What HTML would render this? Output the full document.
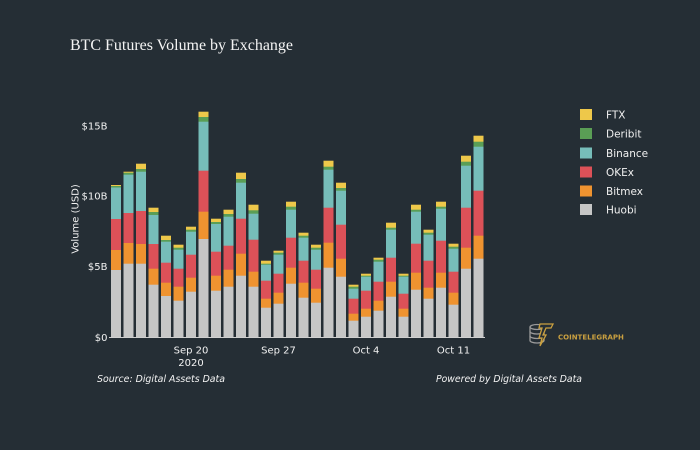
<!DOCTYPE html>
<html><head><meta charset="utf-8"><style>
html,body{margin:0;padding:0;background:#252e35;}
svg{display:block;}
text{font-family:"DejaVu Sans","Liberation Sans",sans-serif;}
</style></head><body>
<svg width="700" height="450" viewBox="0 0 700 450" xmlns="http://www.w3.org/2000/svg">
<rect width="700" height="450" fill="#252e35"/>
<text x="70" y="50" font-size="16.2" fill="#f4f4f4" textLength="223" lengthAdjust="spacingAndGlyphs" style="font-family:'Liberation Serif',serif">BTC Futures Volume by Exchange</text>

<g font-size="10" fill="#f2f2f2" text-anchor="end">
<text x="107.5" y="129.5">$15B</text>
<text x="107.5" y="199.5">$10B</text>
<text x="107.5" y="270">$5B</text>
<text x="107.5" y="341">$0</text>
</g>
<text transform="translate(78.5,219) rotate(-90)" font-size="10" fill="#f2f2f2" text-anchor="middle">Volume (USD)</text>

<g>
<g transform="translate(111,0)"><rect y="185" width="10" height="152.5" fill="#eec84a"/><rect y="186" width="10" height="151.5" fill="#5a9e55"/><rect y="187.5" width="10" height="150" fill="#76bdb9"/><rect y="219" width="10" height="118.5" fill="#dc5158"/><rect y="250" width="10" height="87.5" fill="#ef9330"/><rect y="270" width="10" height="67.5" fill="#c6c6c6"/></g>
<g transform="translate(123.5,0)"><rect y="171.7" width="10" height="165.8" fill="#eec84a"/><rect y="172.7" width="10" height="164.8" fill="#5a9e55"/><rect y="174.7" width="10" height="162.8" fill="#76bdb9"/><rect y="213" width="10" height="124.5" fill="#dc5158"/><rect y="243" width="10" height="94.5" fill="#ef9330"/><rect y="263.7" width="10" height="73.8" fill="#c6c6c6"/></g>
<g transform="translate(136,0)"><rect y="163.7" width="10" height="173.8" fill="#eec84a"/><rect y="169" width="10" height="168.5" fill="#5a9e55"/><rect y="171.7" width="10" height="165.8" fill="#76bdb9"/><rect y="211" width="10" height="126.5" fill="#dc5158"/><rect y="244" width="10" height="93.5" fill="#ef9330"/><rect y="263.7" width="10" height="73.8" fill="#c6c6c6"/></g>
<g transform="translate(148.5,0)"><rect y="207.7" width="10" height="129.8" fill="#eec84a"/><rect y="212" width="10" height="125.5" fill="#5a9e55"/><rect y="215" width="10" height="122.5" fill="#76bdb9"/><rect y="244" width="10" height="93.5" fill="#dc5158"/><rect y="268.7" width="10" height="68.8" fill="#ef9330"/><rect y="284.7" width="10" height="52.8" fill="#c6c6c6"/></g>
<g transform="translate(161,0)"><rect y="235.7" width="10" height="101.8" fill="#eec84a"/><rect y="240" width="10" height="97.5" fill="#5a9e55"/><rect y="241.7" width="10" height="95.8" fill="#76bdb9"/><rect y="262.7" width="10" height="74.8" fill="#dc5158"/><rect y="282.7" width="10" height="54.8" fill="#ef9330"/><rect y="296" width="10" height="41.5" fill="#c6c6c6"/></g>
<g transform="translate(173.5,0)"><rect y="244.7" width="10" height="92.8" fill="#eec84a"/><rect y="247.7" width="10" height="89.8" fill="#5a9e55"/><rect y="249.7" width="10" height="87.8" fill="#76bdb9"/><rect y="268.7" width="10" height="68.8" fill="#dc5158"/><rect y="286.7" width="10" height="50.8" fill="#ef9330"/><rect y="300.7" width="10" height="36.8" fill="#c6c6c6"/></g>
<g transform="translate(186,0)"><rect y="226.7" width="10" height="110.8" fill="#eec84a"/><rect y="229.7" width="10" height="107.8" fill="#5a9e55"/><rect y="231.7" width="10" height="105.8" fill="#76bdb9"/><rect y="254.7" width="10" height="82.8" fill="#dc5158"/><rect y="277.7" width="10" height="59.8" fill="#ef9330"/><rect y="291.7" width="10" height="45.8" fill="#c6c6c6"/></g>
<g transform="translate(198.5,0)"><rect y="111.7" width="10" height="225.8" fill="#eec84a"/><rect y="117" width="10" height="220.5" fill="#5a9e55"/><rect y="121.7" width="10" height="215.8" fill="#76bdb9"/><rect y="170.7" width="10" height="166.8" fill="#dc5158"/><rect y="211.7" width="10" height="125.8" fill="#ef9330"/><rect y="239" width="10" height="98.5" fill="#c6c6c6"/></g>
<g transform="translate(211,0)"><rect y="218.7" width="10" height="118.8" fill="#eec84a"/><rect y="222" width="10" height="115.5" fill="#5a9e55"/><rect y="224" width="10" height="113.5" fill="#76bdb9"/><rect y="251.7" width="10" height="85.8" fill="#dc5158"/><rect y="275.7" width="10" height="61.8" fill="#ef9330"/><rect y="290.7" width="10" height="46.8" fill="#c6c6c6"/></g>
<g transform="translate(223.5,0)"><rect y="209.7" width="10" height="127.8" fill="#eec84a"/><rect y="214" width="10" height="123.5" fill="#5a9e55"/><rect y="216.7" width="10" height="120.8" fill="#76bdb9"/><rect y="245.7" width="10" height="91.8" fill="#dc5158"/><rect y="269.7" width="10" height="67.8" fill="#ef9330"/><rect y="286.7" width="10" height="50.8" fill="#c6c6c6"/></g>
<g transform="translate(236,0)"><rect y="172.7" width="10" height="164.8" fill="#eec84a"/><rect y="179" width="10" height="158.5" fill="#5a9e55"/><rect y="182.7" width="10" height="154.8" fill="#76bdb9"/><rect y="218.7" width="10" height="118.8" fill="#dc5158"/><rect y="253.7" width="10" height="83.8" fill="#ef9330"/><rect y="275.7" width="10" height="61.8" fill="#c6c6c6"/></g>
<g transform="translate(248.5,0)"><rect y="204.7" width="10" height="132.8" fill="#eec84a"/><rect y="210.3" width="10" height="127.2" fill="#5a9e55"/><rect y="213.7" width="10" height="123.8" fill="#76bdb9"/><rect y="239.7" width="10" height="97.8" fill="#dc5158"/><rect y="271.7" width="10" height="65.8" fill="#ef9330"/><rect y="286.7" width="10" height="50.8" fill="#c6c6c6"/></g>
<g transform="translate(261,0)"><rect y="260.7" width="10" height="76.8" fill="#eec84a"/><rect y="263.7" width="10" height="73.8" fill="#5a9e55"/><rect y="264.7" width="10" height="72.8" fill="#76bdb9"/><rect y="280.7" width="10" height="56.8" fill="#dc5158"/><rect y="298.7" width="10" height="38.8" fill="#ef9330"/><rect y="307.7" width="10" height="29.8" fill="#c6c6c6"/></g>
<g transform="translate(273.5,0)"><rect y="250.7" width="10" height="86.8" fill="#eec84a"/><rect y="252.7" width="10" height="84.8" fill="#5a9e55"/><rect y="254.7" width="10" height="82.8" fill="#76bdb9"/><rect y="273.7" width="10" height="63.8" fill="#dc5158"/><rect y="292.7" width="10" height="44.8" fill="#ef9330"/><rect y="303.7" width="10" height="33.8" fill="#c6c6c6"/></g>
<g transform="translate(286,0)"><rect y="201.7" width="10" height="135.8" fill="#eec84a"/><rect y="206.7" width="10" height="130.8" fill="#5a9e55"/><rect y="209.7" width="10" height="127.8" fill="#76bdb9"/><rect y="237.7" width="10" height="99.8" fill="#dc5158"/><rect y="267.7" width="10" height="69.8" fill="#ef9330"/><rect y="283.7" width="10" height="53.8" fill="#c6c6c6"/></g>
<g transform="translate(298.5,0)"><rect y="232.7" width="10" height="104.8" fill="#eec84a"/><rect y="235.7" width="10" height="101.8" fill="#5a9e55"/><rect y="237.7" width="10" height="99.8" fill="#76bdb9"/><rect y="260.7" width="10" height="76.8" fill="#dc5158"/><rect y="282.7" width="10" height="54.8" fill="#ef9330"/><rect y="297.7" width="10" height="39.8" fill="#c6c6c6"/></g>
<g transform="translate(311,0)"><rect y="244.7" width="10" height="92.8" fill="#eec84a"/><rect y="247.7" width="10" height="89.8" fill="#5a9e55"/><rect y="249.7" width="10" height="87.8" fill="#76bdb9"/><rect y="269.7" width="10" height="67.8" fill="#dc5158"/><rect y="288.7" width="10" height="48.8" fill="#ef9330"/><rect y="302.7" width="10" height="34.8" fill="#c6c6c6"/></g>
<g transform="translate(323.5,0)"><rect y="160.7" width="10" height="176.8" fill="#eec84a"/><rect y="166.7" width="10" height="170.8" fill="#5a9e55"/><rect y="169.7" width="10" height="167.8" fill="#76bdb9"/><rect y="207.7" width="10" height="129.8" fill="#dc5158"/><rect y="242.7" width="10" height="94.8" fill="#ef9330"/><rect y="267.7" width="10" height="69.8" fill="#c6c6c6"/></g>
<g transform="translate(336,0)"><rect y="182.7" width="10" height="154.8" fill="#eec84a"/><rect y="188" width="10" height="149.5" fill="#5a9e55"/><rect y="190.7" width="10" height="146.8" fill="#76bdb9"/><rect y="224.7" width="10" height="112.8" fill="#dc5158"/><rect y="258.7" width="10" height="78.8" fill="#ef9330"/><rect y="276.7" width="10" height="60.8" fill="#c6c6c6"/></g>
<g transform="translate(348.5,0)"><rect y="284.7" width="10" height="52.8" fill="#eec84a"/><rect y="286.7" width="10" height="50.8" fill="#5a9e55"/><rect y="288.7" width="10" height="48.8" fill="#76bdb9"/><rect y="298.7" width="10" height="38.8" fill="#dc5158"/><rect y="313.7" width="10" height="23.8" fill="#ef9330"/><rect y="320.7" width="10" height="16.8" fill="#c6c6c6"/></g>
<g transform="translate(361,0)"><rect y="273.7" width="10" height="63.8" fill="#eec84a"/><rect y="275.7" width="10" height="61.8" fill="#5a9e55"/><rect y="276.7" width="10" height="60.8" fill="#76bdb9"/><rect y="290.7" width="10" height="46.8" fill="#dc5158"/><rect y="308.7" width="10" height="28.8" fill="#ef9330"/><rect y="316.7" width="10" height="20.8" fill="#c6c6c6"/></g>
<g transform="translate(373.5,0)"><rect y="257.7" width="10" height="79.8" fill="#eec84a"/><rect y="259.7" width="10" height="77.8" fill="#5a9e55"/><rect y="261.7" width="10" height="75.8" fill="#76bdb9"/><rect y="281.7" width="10" height="55.8" fill="#dc5158"/><rect y="300.7" width="10" height="36.8" fill="#ef9330"/><rect y="310.7" width="10" height="26.8" fill="#c6c6c6"/></g>
<g transform="translate(386,0)"><rect y="222.7" width="10" height="114.8" fill="#eec84a"/><rect y="227.7" width="10" height="109.8" fill="#5a9e55"/><rect y="229.7" width="10" height="107.8" fill="#76bdb9"/><rect y="257.7" width="10" height="79.8" fill="#dc5158"/><rect y="281.7" width="10" height="55.8" fill="#ef9330"/><rect y="296.7" width="10" height="40.8" fill="#c6c6c6"/></g>
<g transform="translate(398.5,0)"><rect y="273.7" width="10" height="63.8" fill="#eec84a"/><rect y="275.7" width="10" height="61.8" fill="#5a9e55"/><rect y="276.7" width="10" height="60.8" fill="#76bdb9"/><rect y="293.7" width="10" height="43.8" fill="#dc5158"/><rect y="308.7" width="10" height="28.8" fill="#ef9330"/><rect y="316.7" width="10" height="20.8" fill="#c6c6c6"/></g>
<g transform="translate(411,0)"><rect y="204.7" width="10" height="132.8" fill="#eec84a"/><rect y="209.7" width="10" height="127.8" fill="#5a9e55"/><rect y="211.7" width="10" height="125.8" fill="#76bdb9"/><rect y="243.7" width="10" height="93.8" fill="#dc5158"/><rect y="272.7" width="10" height="64.8" fill="#ef9330"/><rect y="289.7" width="10" height="47.8" fill="#c6c6c6"/></g>
<g transform="translate(423.5,0)"><rect y="229.7" width="10" height="107.8" fill="#eec84a"/><rect y="232.7" width="10" height="104.8" fill="#5a9e55"/><rect y="234.7" width="10" height="102.8" fill="#76bdb9"/><rect y="260.7" width="10" height="76.8" fill="#dc5158"/><rect y="287.7" width="10" height="49.8" fill="#ef9330"/><rect y="298.7" width="10" height="38.8" fill="#c6c6c6"/></g>
<g transform="translate(436,0)"><rect y="201.7" width="10" height="135.8" fill="#eec84a"/><rect y="206.7" width="10" height="130.8" fill="#5a9e55"/><rect y="208.7" width="10" height="128.8" fill="#76bdb9"/><rect y="240.7" width="10" height="96.8" fill="#dc5158"/><rect y="272.7" width="10" height="64.8" fill="#ef9330"/><rect y="287.7" width="10" height="49.8" fill="#c6c6c6"/></g>
<g transform="translate(448.5,0)"><rect y="243.7" width="10" height="93.8" fill="#eec84a"/><rect y="246.7" width="10" height="90.8" fill="#5a9e55"/><rect y="248.7" width="10" height="88.8" fill="#76bdb9"/><rect y="271.7" width="10" height="65.8" fill="#dc5158"/><rect y="292.7" width="10" height="44.8" fill="#ef9330"/><rect y="304.7" width="10" height="32.8" fill="#c6c6c6"/></g>
<g transform="translate(461,0)"><rect y="155.7" width="10" height="181.8" fill="#eec84a"/><rect y="161.7" width="10" height="175.8" fill="#5a9e55"/><rect y="165.7" width="10" height="171.8" fill="#76bdb9"/><rect y="207.7" width="10" height="129.8" fill="#dc5158"/><rect y="247.7" width="10" height="89.8" fill="#ef9330"/><rect y="268.7" width="10" height="68.8" fill="#c6c6c6"/></g>
<g transform="translate(473.5,0)"><rect y="135.7" width="10" height="201.8" fill="#eec84a"/><rect y="141.7" width="10" height="195.8" fill="#5a9e55"/><rect y="146.7" width="10" height="190.8" fill="#76bdb9"/><rect y="190.7" width="10" height="146.8" fill="#dc5158"/><rect y="235.7" width="10" height="101.8" fill="#ef9330"/><rect y="258.7" width="10" height="78.8" fill="#c6c6c6"/></g>
</g>

<line x1="109" y1="337.5" x2="485" y2="337.5" stroke="#d0d0d0" stroke-width="1"/>

<g font-size="10" fill="#f2f2f2" text-anchor="middle">
<text x="191" y="353.5">Sep 20</text>
<text x="191" y="366">2020</text>
<text x="278.5" y="353.5">Sep 27</text>
<text x="366" y="353.5">Oct 4</text>
<text x="453.5" y="353.5">Oct 11</text>
</g>

<g font-size="10.5" fill="#f0f0f0">
<rect x="580" y="109" width="12" height="11" fill="#eec84a"/><text x="606" y="118.5">FTX</text>
<rect x="580" y="128" width="12" height="11" fill="#5a9e55"/><text x="606" y="137.5">Deribit</text>
<rect x="580" y="147.5" width="12" height="11" fill="#76bdb9"/><text x="606" y="157">Binance</text>
<rect x="580" y="166.5" width="12" height="11" fill="#dc5158"/><text x="606" y="176">OKEx</text>
<rect x="580" y="185.5" width="12" height="11" fill="#ef9330"/><text x="606" y="195">Bitmex</text>
<rect x="580" y="204" width="12" height="11" fill="#c6c6c6"/><text x="606" y="213.5">Huobi</text>
</g>

<g font-size="9.6" fill="#f2f2f2" font-style="italic">
<text x="97" y="382" textLength="128" lengthAdjust="spacingAndGlyphs">Source: Digital Assets Data</text>
<text x="436" y="382" textLength="146" lengthAdjust="spacingAndGlyphs">Powered by Digital Assets Data</text>
</g>

<g fill="none" stroke-width="1.3">
<ellipse cx="537" cy="327" rx="7" ry="2.5" stroke="#9a9a9a"/>
<path d="M530 327v4.5a7 2.5 0 0 0 14 0V327" stroke="#9a9a9a"/>
<path d="M530 331.5v4.5a7 2.5 0 0 0 14 0v-4.5" stroke="#9a9a9a"/>
<path d="M530 336v4.5a7 2.5 0 0 0 14 0v-4.5" stroke="#9a9a9a"/>
<path d="M540 324h13l-2 4h-5l-3 7h3l-6 11 2-8h-3l3-10h-3z" stroke="#c9a040" fill="#252e35"/>
</g>
<text x="558" y="339.5" font-size="7" font-weight="bold" fill="#c9a040">COINTELEGRAPH</text>
</svg>
</body></html>
